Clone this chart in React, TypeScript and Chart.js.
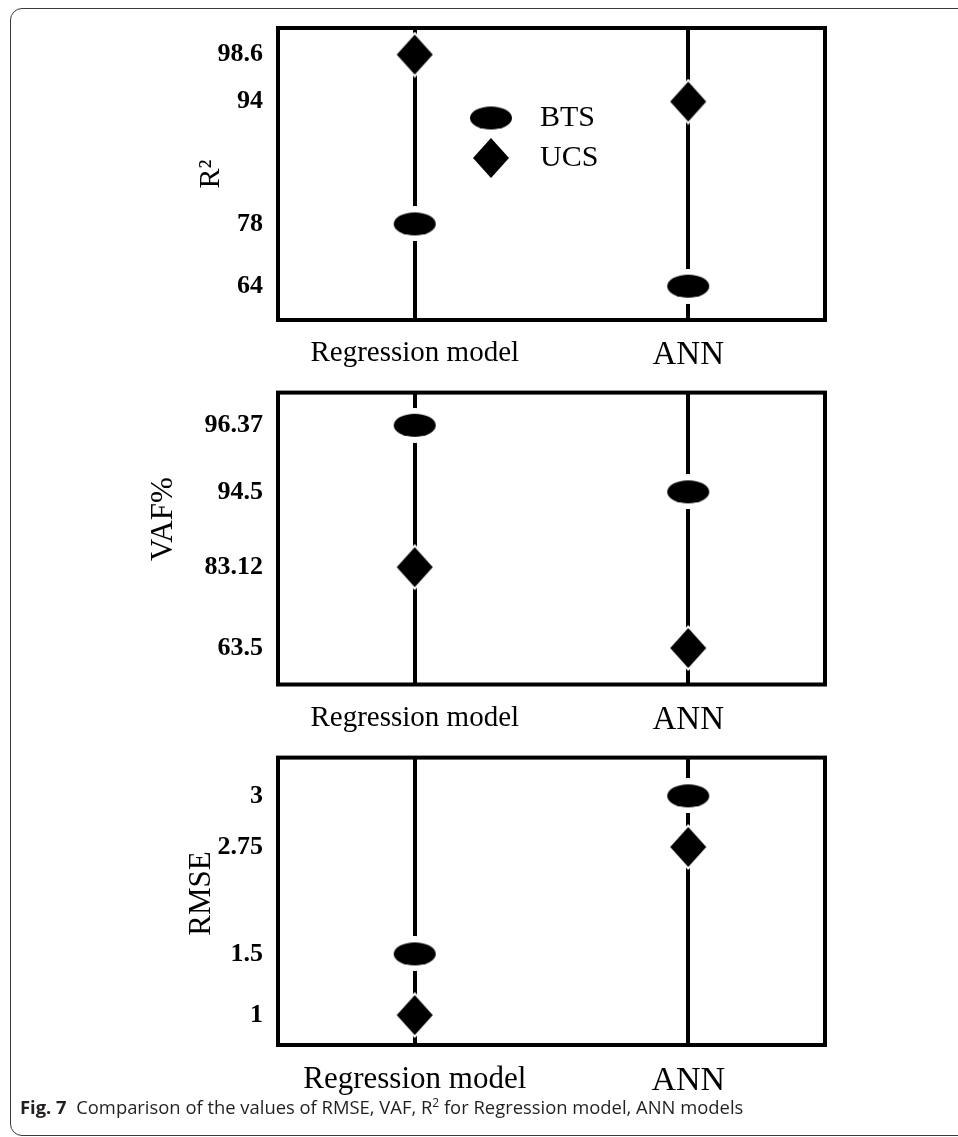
import React, { useEffect, useRef } from 'react';
import { Chart, registerables, LinearScale } from 'chart.js';

// ---------- data ----------
const categories = ['Regression model', 'ANN'];
const seriesNames = ['BTS', 'UCS'];

const r2Ticks = [98.6, 94, 78, 64];
const r2BTS = [78, 64];
const r2UCS = [98.6, 94];

const vafTicks = [96.37, 94.5, 83.12, 63.5];
const vafBTS = [96.37, 94.5];
const vafUCS = [83.12, 63.5];

const rmseTicks = [3, 2.75, 1.5, 1];
const rmseBTS = [1.5, 3];
const rmseUCS = [1, 2.75];

// ---------- axis geometry (where each tick sits, as a fraction of plot height from the bottom) ----------
const r2TickPos = [0.909, 0.748, 0.329, 0.116];
const vafTickPos = [0.888, 0.66, 0.402, 0.125];
const rmseTickPos = [0.867, 0.689, 0.317, 0.104];

const SERIF = "'Liberation Serif', 'Times New Roman', Times, serif";
const FRAME_LEFT = 278;
const FRAME_RIGHT = 825;
const PAGE_W = 958;

// Piecewise-linear value axis: ticks sit at given fractions of the axis
class AnchoredScale extends LinearScale {
  static id = 'anchored';
  static defaults = {};
  _anchors: { v: number; p: number }[] = [];

  buildTicks() {
    const vals: number[] = (this.options as any).anchorValues || [];
    const pos: number[] = (this.options as any).anchorPositions || [];
    this._anchors = vals.map((v, i) => ({ v, p: pos[i] })).sort((a, b) => a.v - b.v);
    return vals.map((v) => ({ value: v }));
  }

  getPixelForValue(value: number) {
    const a = this._anchors;
    if (!a || a.length < 2) return super.getPixelForValue(value);
    let k = 0;
    while (k < a.length - 2 && value > a[k + 1].v) k++;
    const lo = a[k];
    const hi = a[k + 1];
    const t = (value - lo.v) / (hi.v - lo.v);
    return this.getPixelForDecimal(lo.p + t * (hi.p - lo.p));
  }

  getValueForPixel(pixel: number) {
    const a = this._anchors;
    if (!a || a.length < 2) return super.getValueForPixel(pixel);
    const d = this.getDecimalForPixel(pixel);
    let k = 0;
    while (k < a.length - 2 && d > a[k + 1].p) k++;
    const lo = a[k];
    const hi = a[k + 1];
    return lo.v + ((d - lo.p) / (hi.p - lo.p)) * (hi.v - lo.v);
  }
}

Chart.register(...registerables, AnchoredScale);

function makeEllipse(w: number, h: number, halo: number) {
  const c = document.createElement('canvas');
  c.width = w + 2 * halo;
  c.height = h + 2 * halo;
  const ctx = c.getContext('2d')!;
  const cx = c.width / 2;
  const cy = c.height / 2;
  ctx.fillStyle = '#fff';
  ctx.beginPath();
  ctx.ellipse(cx, cy, w / 2 + halo, h / 2 + halo, 0, 0, Math.PI * 2);
  ctx.fill();
  ctx.fillStyle = '#000';
  ctx.beginPath();
  ctx.ellipse(cx, cy, w / 2, h / 2, 0, 0, Math.PI * 2);
  ctx.fill();
  return c;
}

function makeDiamond(w: number, h: number, halo: number) {
  const c = document.createElement('canvas');
  c.width = w + 2 * halo;
  c.height = h + 2 * halo;
  const ctx = c.getContext('2d')!;
  const cx = c.width / 2;
  const cy = c.height / 2;
  const path = (hw: number, hh: number) => {
    ctx.beginPath();
    ctx.moveTo(cx, cy - hh);
    ctx.lineTo(cx + hw, cy);
    ctx.lineTo(cx, cy + hh);
    ctx.lineTo(cx - hw, cy);
    ctx.closePath();
    ctx.fill();
  };
  ctx.fillStyle = '#fff';
  path(w / 2 + halo, h / 2 + halo);
  ctx.fillStyle = '#000';
  path(w / 2, h / 2);
  return c;
}

const framePlugin = {
  id: 'frame',
  afterDraw(chart: any) {
    const { left, top, right, bottom } = chart.chartArea;
    const ctx = chart.ctx;
    ctx.save();
    ctx.strokeStyle = '#000';
    ctx.lineWidth = 4;
    ctx.strokeRect(left, top, right - left, bottom - top);
    ctx.restore();
  },
};

type PanelCfg = {
  top: number;
  height: number;
  padTop: number;
  axisH: number;
  ticks: number[];
  tickPos: number[];
  bts: number[];
  ucs: number[];
  title: string;
  titleSize: number;
  titleX: number;
  regSize: number;
  annSize: number;
  legend?: { left: number; top: number };
};

const NB = '\u00a0';

const panels: PanelCfg[] = [
  {
    top: 0, height: 380, padTop: 28, axisH: 60,
    ticks: r2Ticks, tickPos: r2TickPos, bts: r2BTS, ucs: r2UCS,
    title: 'R²', titleSize: 30, titleX: 211, regSize: 29, annSize: 33,
    legend: { left: 447, top: 93 },
  },
  {
    top: 370, height: 380, padTop: 19, axisH: 65.5,
    ticks: vafTicks, tickPos: vafTickPos, bts: vafBTS, ucs: vafUCS,
    title: NB.repeat(5) + 'VAF%', titleSize: 31, titleX: 164, regSize: 29, annSize: 33,
  },
  {
    top: 735, height: 380, padTop: 17, axisH: 70,
    ticks: rmseTicks, tickPos: rmseTickPos, bts: rmseBTS, ucs: rmseUCS,
    title: NB.repeat(2) + 'RMSE', titleSize: 31, titleX: 202, regSize: 31, annSize: 34,
  },
];

function Panel({ cfg }: { cfg: PanelCfg }) {
  const ref = useRef<HTMLCanvasElement>(null);
  useEffect(() => {
    const ellipse = makeEllipse(42, 23, 6);
    const diamond = makeDiamond(36, 40, 3);
    const legendMover = {
      id: 'legendMover',
      afterLayout(chart: any) {
        const lg = chart.legend;
        if (!lg || !cfg.legend) return;
        const w = lg.width;
        lg.left = cfg.legend.left;
        lg.top = cfg.legend.top;
        lg.right = lg.left + w + 40;
        lg.bottom = lg.top + 150;
        lg.width = lg.right - lg.left;
        lg.height = 150;
      },
    };
    const titleLH = cfg.titleSize * 1.2;
    const chart = new Chart(ref.current!, {
      type: 'line',
      data: {
        labels: categories,
        datasets: [
          {
            label: seriesNames[0],
            data: cfg.bts,
            showLine: false,
            pointStyle: ellipse as any,
            pointRadius: 12,
            borderColor: '#000',
            backgroundColor: '#000',
            clip: false as any,
          },
          {
            label: seriesNames[1],
            data: cfg.ucs,
            showLine: false,
            pointStyle: diamond as any,
            pointRadius: 12,
            borderColor: '#000',
            backgroundColor: '#000',
            clip: false as any,
          },
        ],
      },
      options: {
        animation: false,
        responsive: false,
        events: [],
        layout: { padding: { top: cfg.padTop, right: PAGE_W - FRAME_RIGHT, left: 0, bottom: 0 } },
        plugins: {
          tooltip: { enabled: false },
          legend: {
            display: !!cfg.legend,
            position: 'chartArea' as any,
            align: 'start',
            labels: {
              usePointStyle: true,
              pointStyleWidth: 68,
              padding: 10,
              color: '#000',
              font: { family: SERIF, size: 30 },
            },
          },
        },
        scales: {
          x: {
            type: 'category',
            offset: true,
            grid: { display: true, color: '#000', lineWidth: 4, drawTicks: false, offset: false },
            border: { display: false },
            ticks: {
              color: '#000',
              padding: 16,
              autoSkip: false,
              maxRotation: 0,
              font: (ctx: any) => ({ family: SERIF, size: ctx.index === 1 ? cfg.annSize : cfg.regSize }),
            },
            afterFit: (s: any) => {
              s.height = cfg.axisH;
            },
          },
          y: {
            type: 'anchored' as any,
            anchorValues: cfg.ticks,
            anchorPositions: cfg.tickPos,
            grid: { display: false },
            border: { display: false },
            ticks: {
              color: '#000',
              padding: 7,
              autoSkip: false,
              font: { family: SERIF, size: 26, weight: 'bold' },
              callback: (v: any) => String(v),
            },
            title: {
              display: true,
              text: cfg.title,
              color: '#000',
              font: { family: SERIF, size: cfg.titleSize },
              padding: { top: cfg.titleX - titleLH / 2, bottom: 0 },
            },
            afterFit: (s: any) => {
              s.width = FRAME_LEFT;
            },
          } as any,
        },
      },
      plugins: [framePlugin, legendMover],
    });
    return () => chart.destroy();
  }, []);
  return (
    <canvas
      ref={ref}
      width={PAGE_W}
      height={cfg.height}
      style={{ position: 'absolute', left: 0, top: cfg.top, width: PAGE_W, height: cfg.height }}
    />
  );
}

export default function App() {
  return (
    <div
      style={{
        position: 'absolute',
        left: 0,
        top: 0,
        width: PAGE_W,
        height: 1137,
        overflow: 'hidden',
        background: '#fff',
      }}
    >
      <div
        style={{
          position: 'absolute',
          left: 10,
          top: 8,
          width: 1000,
          height: 1126,
          border: '1.5px solid #3a3a3a',
          borderRadius: 12,
        }}
      />
      {panels.map((p, i) => (
        <Panel key={i} cfg={p} />
      ))}
      <div
        style={{
          position: 'absolute',
          left: 20,
          top: 1094,
          fontFamily: "'Open Sans', 'Noto Sans', sans-serif",
          fontSize: 18.4,
          color: '#231f20',
          whiteSpace: 'nowrap',
        }}
      >
        <span style={{ fontWeight: 700 }}>Fig. 7</span>
        <span>
          {'\u00a0\u00a0'}Comparison of the values of RMSE, VAF, R<sup style={{ fontSize: 12, lineHeight: 0 }}>2</sup> for
          Regression model, ANN models
        </span>
      </div>
    </div>
  );
}
